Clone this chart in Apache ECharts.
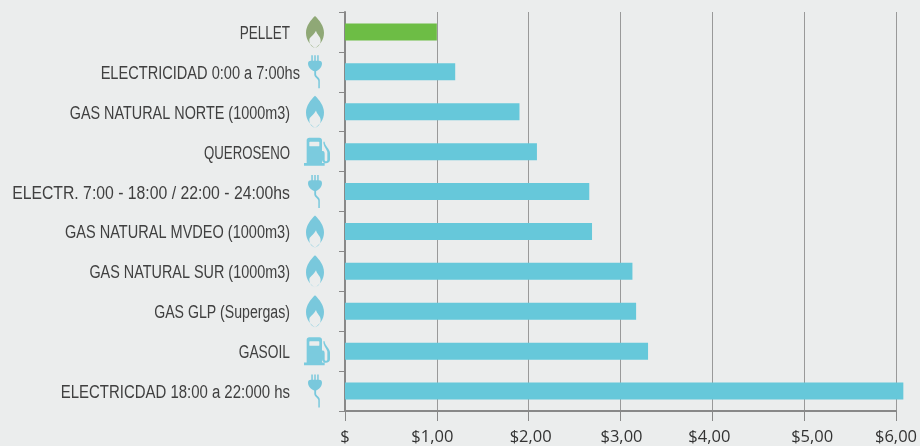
<!DOCTYPE html>
<html><head><meta charset="utf-8">
<style>html,body{margin:0;padding:0;background:#ebeded}#c{width:920px;height:446px}</style>
<script src="https://cdn.jsdelivr.net/npm/echarts@6/dist/echarts.min.js"></script>
</head><body><div id="c"></div>
<script>
const categories = ['PELLET','ELECTRICIDAD 0:00 a 7:00hs','GAS NATURAL NORTE (1000m3)','QUEROSENO','ELECTR. 7:00 - 18:00 / 22:00 - 24:00hs','GAS NATURAL MVDEO (1000m3)','GAS NATURAL SUR (1000m3)','GAS GLP (Supergas)','GASOIL','ELECTRICDAD 18:00 a 22:000 hs'];
const values = [1.0,1.2,1.9,2.09,2.66,2.69,3.13,3.17,3.30,6.08];
const icons = ['pellet','plug','flame','pump','plug','flame','flame','flame','pump','plug'];
const tickLabels = ['$','$1,00','$2,00','$3,00','$4,00','$5,00','$6,00'];

const flame = 'path://M27 0C40 12 54 30 54 50C54 72 40 88 27 95C14 88 0 72 0 50C0 30 14 12 27 0ZM27 95C38 92 44 82 44 72C44 62 33 56 30 44C22 60 10 62 10 72C10 82 16 92 27 95Z';
const plug = 'path://M11 0H15V16H11ZM19 0H23V16H19ZM27 0H31V16H27ZM2 24C2 18 6 16 10 16H32C36 16 40 18 40 24C40 36 32 45 24 48V58C24 64 34 66 34 76V100H30V78C30 70 19 68 19 58V48C10 45 2 36 2 24Z';
const pump = 'path://M8 8C8 3 11 0 16 0H46C51 0 54 3 54 8V40H56C62 40 62 46 62 52V66C62 72 70 72 70 66V44C70 36 58 28 58 12L62 12C62 24 78 34 78 46V66C78 80 54 80 54 66V76H62V84H0V76H8ZM18 12C17 12 16 13 16 14V24C16 25 17 26 18 26H44C45 26 46 25 46 24V14C46 13 45 12 44 12Z';

const iconStyle = {
  pellet:{symbol:flame,size:[18,32],color:'#8fa876',off:[-30,0]},
  flame:{symbol:flame,size:[18,32],color:'#79c8dc',off:[-30,0]},
  plug:{symbol:plug,size:[14,33],color:'#79c8dc',off:[-30,0]},
  pump:{symbol:pump,size:[26,28],color:'#7bcbde',off:[-28,0]}
};
// horizontal squeeze of each label, imitating the reference's condensed type
const labelSqueeze = [0.75,0.81,0.80,0.735,0.876,0.807,0.80,0.785,0.765,0.83];
// hand-placed nudges of the x tick labels, as in the reference
const tickNudge = [{},{padding:[0,9,0,0]},{padding:[0,0,0,4]},{padding:[0,0,0,2]},{padding:[0,6,0,0]},{padding:[0,0,0,16]},{}];
const tickRich = {};
tickNudge.forEach((n,i)=>{tickRich['t'+i]=Object.assign({fontFamily:'Open Sans',fontSize:16.5,color:'#333'},n);});

const chart = echarts.init(document.getElementById('c'));
chart.setOption({
  animation:false,
  backgroundColor:'#ebeded',
  grid:{left:345,right:22,top:12,height:399},
  xAxis:{type:'value',min:0,max:6,interval:1,position:'bottom',
    axisLine:{show:true,lineStyle:{color:'#888',width:2}},
    axisTick:{show:true,length:10,lineStyle:{color:'#888',width:1}},
    splitLine:{show:true,lineStyle:{color:'#999',width:1}},
    axisLabel:{margin:18,formatter:(v)=>{const i=Math.round(v);return '{t'+i+'|'+tickLabels[i]+'}';},rich:tickRich}},
  yAxis:{type:'category',inverse:true,data:categories,
    axisLine:{show:true,lineStyle:{color:'#888',width:2}},
    axisTick:{show:true,length:6,lineStyle:{color:'#888',width:1}},
    splitLine:{show:false},
    axisLabel:{show:false}},
  series:[
    {type:'bar',clip:false,barWidth:17,
     data:values.map((v,i)=>({value:v,itemStyle:{color:i===0?'#6dbd45':'#66c8da'}}))},
    {type:'scatter',clip:false,silent:true,
     data:icons.map((k,i)=>{const s=iconStyle[k];return {value:[0,categories[i]],symbol:s.symbol,symbolSize:s.size,symbolOffset:s.off,itemStyle:{color:s.color,opacity:1}};})},
    {type:'custom',silent:true,clip:false,
     data:categories.map((c,i)=>[0,i]),
     encode:{x:0,y:1},
     renderItem:(params,api)=>{
       const i=api.value(1);
       const p=api.coord([0,i]);
       return {type:'text',x:p[0]-(i===1?45:55),y:p[1]+2,scaleX:labelSqueeze[i],
         style:{text:categories[i],textAlign:'right',textVerticalAlign:'middle',
           fontFamily:'Liberation Sans',fontSize:18,fill:'#404040'}};
     }}
  ]
});
</script></body></html>
